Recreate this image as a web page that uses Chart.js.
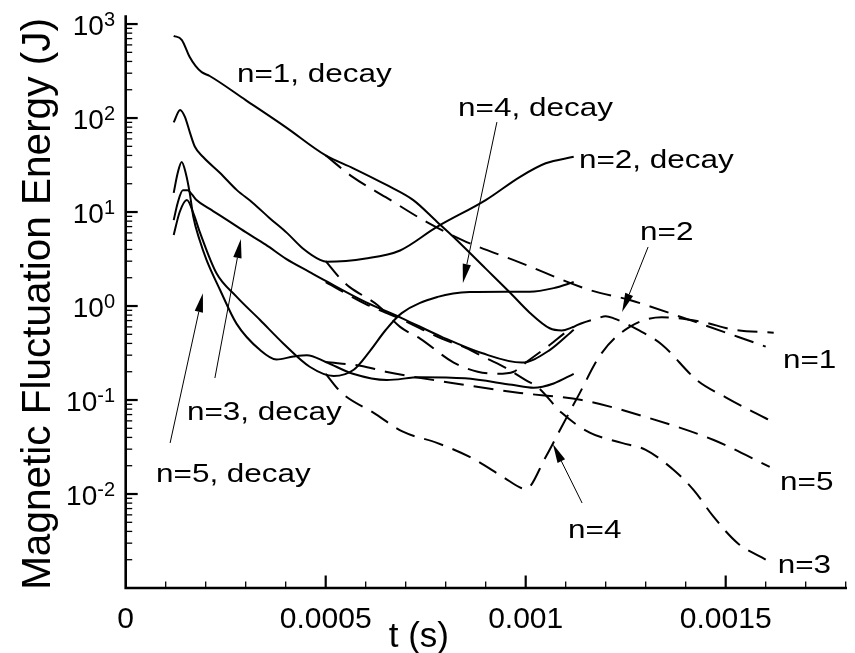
<!DOCTYPE html>
<html><head><meta charset="utf-8">
<script src="https://cdn.jsdelivr.net/npm/chart.js@4.4.1/dist/chart.umd.min.js"></script>
<style>html,body{margin:0;padding:0;background:#fff;}</style>
</head><body>
<canvas id="c" width="855" height="653"></canvas>
<script>
// ---------- data (t in s, energy in J) ----------
const t_n1_decay = [0.00012,0.00014,0.00016,0.000175,0.00019,0.00021,0.0003,0.0004,0.0005,0.000569,0.000652,0.000719,0.000778,0.000819,0.0009,0.00096,0.00101,0.00106,0.00109,0.00112];
const e_n1_decay = [750,680,446,357,308,280,155,80,40,29.2,19.4,13.4,7.9,5.46,2.5,1.4,0.85,0.58,0.55,0.6];

const t_n2_decay = [0.00012,0.000136,0.000148,0.000161,0.000173,0.000193,0.000236,0.000278,0.000318,0.00036,0.000403,0.000443,0.000486,0.000503,0.0006,0.000686,0.000777,0.0009,0.000986,0.00105,0.00112];
const e_n2_decay = [90,122,103,69,49.5,38.7,26,17.1,12.5,8.6,6,4.1,3.1,2.96,3.2,3.9,6.9,13.4,23.7,33,38.7];

const t_n3_decay = [0.00012,0.00013,0.000143,0.000155,0.000165,0.000177,0.00021,0.00025,0.0003,0.00035,0.0004,0.00046,0.0005,0.0006,0.00069,0.00079,0.00089,0.00099,0.00106,0.00112];
const e_n3_decay = [8.2,12.5,17,17,15.5,13.4,10.8,8.4,6.1,4.5,3.2,2.3,1.85,1.1,0.745,0.47,0.316,0.25,0.34,0.56];

const t_n4_decay = [0.00012,0.000135,0.000153,0.00017,0.000186,0.000227,0.000277,0.000336,0.000394,0.00046,0.00052,0.00057,0.00061,0.00065,0.00069,0.00078,0.00086,0.00095,0.00101,0.00107,0.00112];
const e_n4_decay = [5.7,10,13.4,9.5,6,2.23,1.26,0.71,0.4,0.226,0.18,0.21,0.33,0.556,0.84,1.25,1.41,1.42,1.42,1.55,1.8];

const t_n5_decay = [0.00012,0.00013,0.00014,0.00015,0.00016,0.000169,0.000185,0.000202,0.000236,0.000277,0.000336,0.000377,0.000419,0.000453,0.0005,0.000568,0.000653,0.000736,0.000848,0.000966,0.00102,0.00107,0.00112];
const e_n5_decay = [16,26,34,26,16,8.9,5,3.1,1.48,0.65,0.34,0.27,0.29,0.3,0.254,0.19,0.163,0.175,0.17,0.145,0.135,0.15,0.19];

const t_n1 = [0.0005,0.000568,0.00065,0.000753,0.000843,0.000986,0.00116,0.00126,0.00139,0.0016];
const e_n1 = [40,23.5,14.4,7.8,5.0,2.9,1.48,1.16,0.76,0.37];

const t_n2 = [0.0005,0.00054,0.00056,0.00063,0.000686,0.000736,0.00082,0.00088,0.00093,0.00097,0.001,0.00106,0.00112,0.00118,0.0012,0.00122,0.00128,0.00134,0.00143,0.0015,0.00156,0.00162];
const e_n2 = [3.0,1.89,1.59,1.02,0.6,0.45,0.25,0.2,0.19,0.2,0.25,0.385,0.6,0.74,0.78,0.74,0.56,0.39,0.16,0.107,0.078,0.058];

const t_n3 = [0.0005,0.0006,0.00069,0.00079,0.00085,0.0009,0.00095,0.001,0.00103,0.00109,0.00116,0.00124,0.0013,0.00137,0.00142,0.00147,0.00153,0.0016];
const e_n3 = [1.8,1.05,0.72,0.45,0.36,0.28,0.22,0.163,0.137,0.073,0.045,0.035,0.0295,0.018,0.011,0.0057,0.003,0.002];

const t_n4 = [0.0005,0.00054,0.00062,0.000693,0.000778,0.00086,0.000943,0.00099,0.001,0.00105,0.00109,0.00113,0.00119,0.00126,0.00134,0.00144,0.00152,0.00162];
const e_n4 = [0.19,0.119,0.073,0.046,0.035,0.0248,0.0152,0.0115,0.0113,0.0248,0.052,0.108,0.316,0.6,0.76,0.68,0.56,0.52];

const t_n5 = [0.0005,0.00059,0.00065,0.00082,0.000986,0.00114,0.0013,0.00147,0.00161];
const e_n5 = [0.254,0.23,0.2,0.151,0.119,0.1,0.066,0.0375,0.0194];

// axis ticks
const xTickValues = [0, 0.0005, 0.001, 0.0015];
const xTickLabels = ['0', '0.0005', '0.001', '0.0015'];
const xMinorStep = 0.0001;
const yTickExponents = [-2, -1, 0, 1, 2, 3];
const yTitle = 'Magnetic Fluctuation Energy (J)';
const xTitle = 't (s)';
const xTitleAt = 0.000733;

// annotations (anchored in data coordinates)
const annoText = ['n=1, decay','n=4, decay','n=2, decay','n=2','n=1','n=5','n=3','n=4','n=3, decay','n=5, decay'];
const annoT = [0.000278,0.000831,0.001133,0.001286,0.001643,0.001636,0.00163,0.001106,0.000153,0.0000758];
const annoE = [242,105,29.4,5.03,0.219,0.011,0.00144,0.0034,0.0612,0.01343];

const arrowFromT = [0.000928,0.001306,0.001141,0.000223,0.000111];
const arrowFromE = [90.6,4.25,0.00802,0.1714,0.0349];
const arrowToT   = [0.000843,0.001241,0.001068,0.000288,0.000193];
const arrowToE   = [1.76,0.863,0.034,5.16,1.37];

// ---------- chart ----------
function pts(t, e) { return t.map((v, i) => ({x: v, y: e[i]})); }
const series = [
  [t_n1_decay, e_n1_decay, false], [t_n2_decay, e_n2_decay, false], [t_n3_decay, e_n3_decay, false],
  [t_n4_decay, e_n4_decay, false], [t_n5_decay, e_n5_decay, false],
  [t_n1, e_n1, true], [t_n2, e_n2, true], [t_n3, e_n3, true], [t_n4, e_n4, true], [t_n5, e_n5, true]
];
const datasets = series.map(([t, e, dashed]) => ({
  data: pts(t, e),
  borderColor: '#000',
  borderWidth: 2,
  borderDash: dashed ? [20, 10] : [],
  pointRadius: 0,
  fill: false,
  cubicInterpolationMode: 'monotone'
}));

const FONT = '"Liberation Sans", Arial, Helvetica, sans-serif';

const tecAxes = {
  id: 'tecAxes',
  afterDraw(chart) {
    const {ctx, chartArea: a, scales: {x, y}} = chart;
    ctx.save();
    ctx.strokeStyle = '#000';
    ctx.fillStyle = '#000';
    // axis lines
    ctx.lineWidth = 2.6;
    ctx.lineCap = 'square';
    ctx.beginPath();
    ctx.moveTo(a.left, a.top); ctx.lineTo(a.left, a.bottom); ctx.lineTo(a.right, a.bottom);
    ctx.stroke();
    ctx.lineCap = 'butt';
    // y ticks (inward)
    for (let k = -3; k <= 3; k++) {
      for (let m = 1; m <= 9; m++) {
        const v = m * Math.pow(10, k);
        if (v > y.max || v < y.min * 0.9999) continue;
        if (k === -3 && m === 1) continue;
        const py = y.getPixelForValue(v);
        const major = m === 1;
        ctx.lineWidth = major ? 2.2 : 1.3;
        ctx.beginPath();
        ctx.moveTo(a.left, py); ctx.lineTo(a.left + (major ? 12 : 6.5), py);
        ctx.stroke();
      }
    }
    // x ticks (inward)
    const nMinor = Math.round(x.max / xMinorStep);
    for (let i = 1; i <= nMinor; i++) {
      const v = i * xMinorStep;
      const px = x.getPixelForValue(v);
      const major = xTickValues.some(t => Math.abs(t - v) < 1e-9);
      ctx.lineWidth = major ? 2.2 : 1.3;
      ctx.beginPath();
      ctx.moveTo(px, a.bottom); ctx.lineTo(px, a.bottom - (major ? 12.5 : 6.5));
      ctx.stroke();
    }
    // y tick labels 10^k
    const rightEdge = 115;
    ctx.textAlign = 'left';
    ctx.textBaseline = 'alphabetic';
    yTickExponents.forEach(k => {
      const py = y.getPixelForValue(Math.pow(10, k));
      const ex = String(k);
      ctx.font = '20px ' + FONT;
      const we = ctx.measureText(ex).width;
      ctx.font = '28px ' + FONT;
      const wb = ctx.measureText('10').width;
      ctx.fillText('10', rightEdge - we - wb, py + 11);
      ctx.font = '20px ' + FONT;
      ctx.fillText(ex, rightEdge - we, py + 2);
    });
    // x tick labels
    ctx.font = '30px ' + FONT;
    ctx.textAlign = 'center';
    xTickValues.forEach((v, i) => {
      ctx.fillText(xTickLabels[i], x.getPixelForValue(v), 628);
    });
    // axis titles
    ctx.font = '35px ' + FONT;
    ctx.fillText(xTitle, x.getPixelForValue(xTitleAt), 647);
    ctx.save();
    ctx.translate(50, 304);
    ctx.rotate(-Math.PI / 2);
    ctx.font = '40.5px ' + FONT;
    ctx.textAlign = 'center';
    ctx.fillText(yTitle, 0, 0);
    ctx.restore();
    // annotations
    ctx.textAlign = 'left';
    ctx.font = '26px ' + FONT;
    annoText.forEach((s, i) => {
      const px = x.getPixelForValue(annoT[i]);
      const py = y.getPixelForValue(annoE[i]);
      ctx.save();
      ctx.translate(px, py);
      ctx.scale(1.21, 1);
      ctx.fillText(s, 0, 0);
      ctx.restore();
    });
    // arrows
    arrowFromT.forEach((t0, i) => {
      const x0 = x.getPixelForValue(t0), y0 = y.getPixelForValue(arrowFromE[i]);
      const x1 = x.getPixelForValue(arrowToT[i]), y1 = y.getPixelForValue(arrowToE[i]);
      const ang = Math.atan2(y1 - y0, x1 - x0);
      const L = 19, W = 4.2;
      const bx = x1 - L * Math.cos(ang), by = y1 - L * Math.sin(ang);
      ctx.lineWidth = 1;
      ctx.beginPath(); ctx.moveTo(x0, y0); ctx.lineTo(bx, by); ctx.stroke();
      ctx.beginPath();
      ctx.moveTo(x1, y1);
      ctx.lineTo(bx + W * Math.sin(ang), by - W * Math.cos(ang));
      ctx.lineTo(bx - W * Math.sin(ang), by + W * Math.cos(ang));
      ctx.closePath(); ctx.fill();
    });
    ctx.restore();
  }
};

new Chart(document.getElementById('c'), {
  type: 'line',
  data: {datasets},
  options: {
    responsive: false,
    animation: false,
    devicePixelRatio: 1,
    layout: {padding: {left: 125.7, right: 9.3, top: 16.6, bottom: 65}},
    plugins: {legend: {display: false}, tooltip: {enabled: false}},
    scales: {
      x: {type: 'linear', min: 0, max: 0.0018, display: false},
      y: {type: 'logarithmic', min: 0.001, max: 1200, display: false}
    }
  },
  plugins: [tecAxes]
});
</script>
</body></html>
